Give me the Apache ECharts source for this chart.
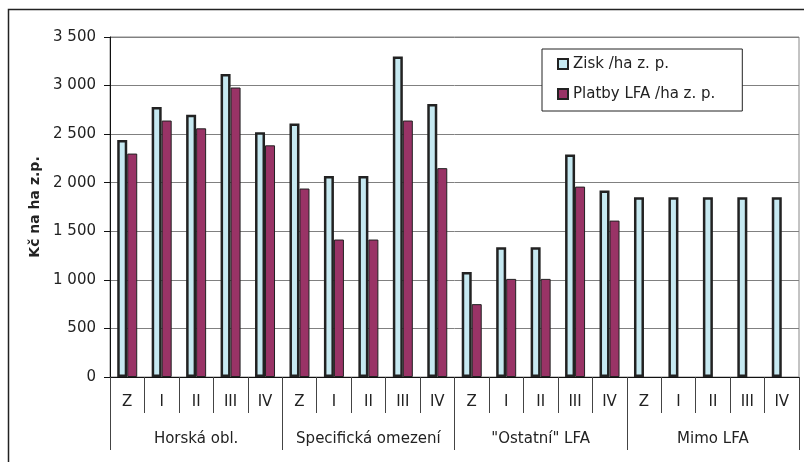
<!DOCTYPE html>
<html lang="cs">
<head>
  <meta charset="UTF-8" />
  <title>Kč na ha z.p.</title>
  <style>
    * { padding: 0; margin: 0; }
    html, body { width: 100%; height: 100%; background: #fff; }
    #chart { width: 804px; height: 462px; }
  </style>
</head>
<body>
  <div id="chart"></div>
  <script src="https://cdn.jsdelivr.net/npm/echarts@6/dist/echarts.min.js"></script>
  <script>
    // data
    var subCats = ['Z', 'I', 'II', 'III', 'IV', 'Z', 'I', 'II', 'III', 'IV',
                   'Z', 'I', 'II', 'III', 'IV', 'Z', 'I', 'II', 'III', 'IV']
    var groups = ['Horská obl.', 'Specifická omezení', '"Ostatní" LFA', 'Mimo LFA']
    var zisk = [2440, 2780, 2700, 3120, 2520,
                2610, 2070, 2070, 3300, 2810,
                1080, 1335, 1335, 2290, 1920,
                1850, 1850, 1850, 1850, 1850]
    var platby = [2300, 2640, 2560, 2980, 2385,
                  1940, 1415, 1415, 2640, 2150,
                  750, 1010, 1010, 1960, 1610,
                  '-', '-', '-', '-', '-']
    var names = ['Zisk /ha z. p.', 'Platby LFA /ha z. p.']

    var font = 'DejaVu Sans, Arial, sans-serif'
    var chart = echarts.init(document.getElementById('chart'))

    var option = {
      animation: false,
      textStyle: { fontFamily: font, color: '#222' },
      graphic: [{
        type: 'rect',
        shape: { x: 8.5, y: 9.5, width: 900, height: 600 },
        style: { fill: 'none', stroke: '#222', lineWidth: 1.5 },
        silent: true
      }],
      grid: {
        left: 110, top: 37, right: 5, bottom: 85,
        show: true, borderColor: '#888', borderWidth: 1
      },
      legend: {
        orient: 'vertical',
        left: 542, top: 49,
        padding: [7, 27, 9, 15],
        itemGap: 14,
        itemWidth: 10, itemHeight: 10,
        icon: 'rect',
        borderColor: '#222', borderWidth: 1,
        backgroundColor: '#fff',
        textStyle: { fontSize: 15, lineHeight: 16, color: '#222', fontFamily: font },
        data: names
      },
      xAxis: [
        {
          type: 'category',
          data: subCats,
          axisLine: { lineStyle: { color: '#111', width: 1 } },
          axisTick: { show: true, length: 36, lineStyle: { color: '#444' } },
          axisLabel: { fontSize: 15, margin: 18, color: '#222', interval: 0 }
        },
        {
          type: 'category',
          position: 'bottom',
          data: groups,
          axisLine: { show: false },
          axisTick: { show: true, length: 73, lineStyle: { color: '#444' } },
          axisLabel: { fontSize: 15, margin: 55, color: '#222', interval: 0 }
        }
      ],
      yAxis: {
        type: 'value',
        min: 0, max: 3500, interval: 500,
        name: 'Kč na ha z.p.',
        nameLocation: 'middle',
        nameGap: 68,
        nameTextStyle: { fontSize: 14, fontWeight: 'bold', color: '#222' },
        axisLine: { show: true, lineStyle: { color: '#111' } },
        axisTick: { show: true, length: 6, lineStyle: { color: '#111' } },
        axisLabel: {
          fontSize: 15, margin: 14, color: '#222',
          formatter: function (v) {
            return String(v).replace(/\B(?=(\d{3})+(?!\d))/g, ' ')
          }
        },
        splitLine: { lineStyle: { color: '#808080', width: 1 } }
      },
      series: [
        {
          name: names[0],
          type: 'bar',
          data: zisk,
          barWidth: 10,
          barGap: '0%',
          itemStyle: { color: '#c6e9f1', borderColor: '#222', borderWidth: 2.5 }
        },
        {
          name: names[1],
          type: 'bar',
          data: platby,
          barWidth: 10,
          itemStyle: { color: '#993366', borderColor: '#222', borderWidth: 1 }
        }
      ]
    }
    chart.setOption(option)
  </script>
</body>
</html>
